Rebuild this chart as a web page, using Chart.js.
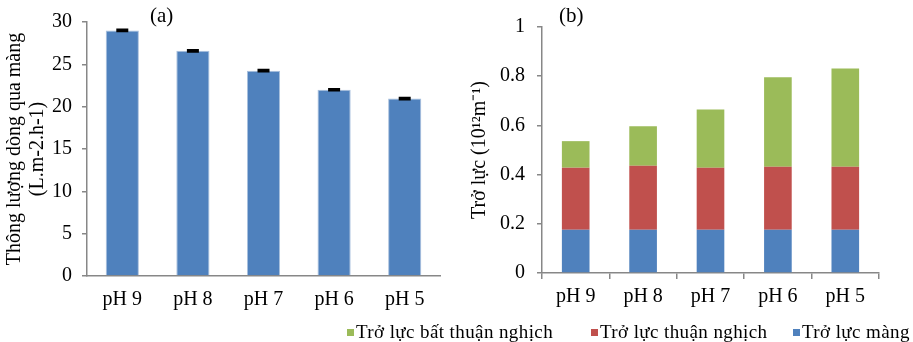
<!DOCTYPE html>
<html>
<head>
<meta charset="utf-8">
<script src="https://cdn.jsdelivr.net/npm/chart.js@4.4.1/dist/chart.umd.min.js"></script>
<style>
  html, body { margin: 0; padding: 0; background: #fff; }
  #wrap { position: relative; width: 913px; height: 342px; overflow: hidden; font-family: "Liberation Serif", "Times New Roman", serif; }
  .box { position: absolute; top: 0; }
  #boxA { left: 0; width: 460px; height: 342px; }
  #boxB { left: 460px; width: 453px; height: 320px; }
  .tag { position: absolute; top: 5px; font-size: 21px; line-height: 21px; color: #000; }
  .leg { position: absolute; top: 322px; font-size: 19px; line-height: 19px; color: #000; white-space: nowrap; letter-spacing: 0.4px; }
  .leg i { position: absolute; left: -9px; top: 7px; width: 7px; height: 7px; }
</style>
</head>
<body>
<div id="wrap">
  <div class="box" id="boxA"><canvas id="chartA"></canvas></div>
  <div class="box" id="boxB"><canvas id="chartB"></canvas></div>
  <div class="tag" style="left:150px">(a)</div>
  <div class="tag" style="left:559px">(b)</div>
  <div id="legend"></div>
</div>
<script>
const categories = ['pH 9', 'pH 8', 'pH 7', 'pH 6', 'pH 5'];

// (a) flux through membrane
const fluxValues = [29.0, 26.6, 24.25, 22.0, 20.95];
const fluxErrors = [0.1, 0.1, 0.1, 0.1, 0.1];

// (b) resistances, stacked
const membraneRes = [0.176, 0.176, 0.176, 0.176, 0.176];
const reversibleRes = [0.252, 0.260, 0.252, 0.256, 0.256];
const irreversibleRes = [0.108, 0.161, 0.237, 0.364, 0.399];

const axisColor = '#878787';
const serif = '"Liberation Serif", "Times New Roman", serif';

const errorBars = {
  id: 'errorBars',
  afterDatasetsDraw(chart) {
    const ctx = chart.ctx;
    const y = chart.scales.y;
    const meta = chart.getDatasetMeta(0);
    ctx.save();
    ctx.strokeStyle = '#000';
    ctx.lineWidth = 2;
    meta.data.forEach((bar, i) => {
      const hi = y.getPixelForValue(fluxValues[i] + fluxErrors[i]);
      const lo = y.getPixelForValue(fluxValues[i] - fluxErrors[i]);
      ctx.beginPath();
      ctx.moveTo(bar.x, hi); ctx.lineTo(bar.x, lo);
      ctx.moveTo(bar.x - 6, hi); ctx.lineTo(bar.x + 6, hi);
      ctx.moveTo(bar.x - 6, lo); ctx.lineTo(bar.x + 6, lo);
      ctx.stroke();
    });
    ctx.restore();
  }
};

new Chart(document.getElementById('chartA'), {
  type: 'bar',
  data: {
    labels: categories,
    datasets: [{
      data: fluxValues,
      backgroundColor: '#4F81BD',
      borderColor: '#A9C0DD',
      borderWidth: 1,
      barPercentage: 0.47,
      categoryPercentage: 1
    }]
  },
  options: {
    responsive: true,
    maintainAspectRatio: false,
    animation: false,
    layout: { padding: { left: 0, right: 20, top: 19, bottom: 26 } },
    plugins: { legend: { display: false }, tooltip: { enabled: false } },
    scales: {
      x: {
        afterFit: s => { s.height = 40; },
        grid: { display: true, drawOnChartArea: false, drawTicks: false, color: axisColor },
        border: { color: axisColor, width: 1.5 },
        ticks: { color: '#000', font: { family: serif, size: 20 }, padding: 12 }
      },
      y: {
        min: 0, max: 30,
        afterFit: s => { s.width = 87; },
        ticks: { stepSize: 5, color: '#000', font: { family: serif, size: 20 }, padding: 10 },
        grid: { drawOnChartArea: false, tickLength: 5, color: axisColor, lineWidth: 1.5 },
        border: { color: axisColor, width: 1.5 },
        title: {
          display: true,
          text: ['Thông lượng dòng qua màng', '(L.m-2.h-1)'],
          color: '#000',
          font: { family: serif, size: 20, lineHeight: 1.15 },
          padding: { top: 3, bottom: 0 }
        }
      }
    }
  },
  plugins: [errorBars]
});

const chartB = new Chart(document.getElementById('chartB'), {
  type: 'bar',
  data: {
    labels: categories,
    datasets: [
      { label: 'Trở lực màng', data: membraneRes, backgroundColor: '#4F81BD' },
      { label: 'Trở lực thuận nghịch', data: reversibleRes, backgroundColor: '#C0504D' },
      { label: 'Trở lực bất thuận nghịch', data: irreversibleRes, backgroundColor: '#9BBB59' }
    ]
  },
  options: {
    responsive: true,
    maintainAspectRatio: false,
    animation: false,
    datasets: { bar: { barPercentage: 0.41, categoryPercentage: 1 } },
    layout: { padding: { left: 0, right: 34, top: 27, bottom: 7 } },
    plugins: { tooltip: { enabled: false }, legend: { display: false } },
    scales: {
      x: {
        stacked: true,
        afterFit: s => { s.height = 40; },
        grid: { display: true, drawOnChartArea: false, tickLength: 6, color: axisColor, lineWidth: 1.5 },
        border: { color: axisColor, width: 1.5 },
        ticks: { color: '#000', font: { family: serif, size: 20 }, padding: 6 }
      },
      y: {
        stacked: true,
        min: 0, max: 1,
        afterFit: s => { s.width = 82; },
        ticks: {
          stepSize: 0.2, color: '#000', font: { family: serif, size: 20 }, padding: 12,
          callback: v => String(+v.toFixed(1))
        },
        grid: { drawOnChartArea: false, tickLength: 5, color: axisColor, lineWidth: 1.5 },
        border: { color: axisColor, width: 1.5 },
        title: {
          display: true,
          text: 'Trở lực (10¹²m⁻¹)',
          color: '#000',
          font: { family: serif, size: 20, lineHeight: 1.15 },
          padding: { top: 8, bottom: 0 }
        }
      }
    }
  }
});

// legend below chart (b), reversed dataset order like the original
const legendX = [356, 600, 802];
const legendEl = document.getElementById('legend');
chartB.data.datasets.slice().reverse().forEach((ds, i) => {
  const item = document.createElement('div');
  item.className = 'leg';
  item.style.left = legendX[i] + 'px';
  item.innerHTML = '<i style="background:' + ds.backgroundColor + '"></i>' + ds.label;
  legendEl.appendChild(item);
});
</script>
</body>
</html>
